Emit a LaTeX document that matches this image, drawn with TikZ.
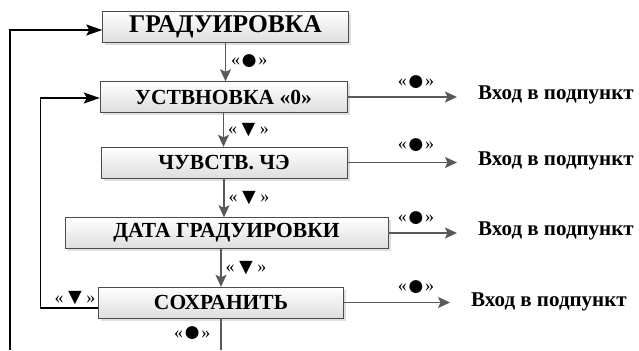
\documentclass[tikz,border=0pt]{standalone}
\usepackage{fontspec}
\setmainfont{Liberation Serif}
\usetikzlibrary{arrows.meta,shadows}

\newcommand{\keydot}{«\raisebox{-3.5bp}{\fontsize{30bp}{30bp}\selectfont ●}»}
\newcommand{\keydown}{«\raisebox{-1.5bp}{\fontsize{23bp}{23bp}\selectfont ▼}»}

\tikzset{%
  menu box/.style={
    draw=black!70,
    top color=white,
    bottom color=black!13,
    drop shadow={shadow xshift=2.5bp, shadow yshift=-2.5bp, opacity=0.25},
    minimum height=31bp,
    inner sep=0pt,
    font=\bfseries\fontsize{21.5bp}{23bp}\selectfont
  },
  step line/.style={
    draw=black!65,
    line width=1.4bp
  },
  step arrow/.style={
    step line,
    -{Stealth[length=12bp, width=11bp, inset=2.5bp]}
  },
  loop arrow/.style={
    draw=black,
    line width=1.6bp,
    -{Stealth[length=16bp, width=11bp, inset=3bp]}
  },
  key label/.style={
    font=\fontsize{18bp}{20bp}\selectfont,
    inner sep=1bp
  },
  enter text/.style={
    anchor=west,
    inner sep=0pt,
    font=\bfseries\fontsize{21bp}{23bp}\selectfont
  },
}

\begin{document}
\begin{tikzpicture}[x=1bp, y=-1bp]

    \useasboundingbox (0,0) rectangle (639,350);

    \node [menu box, minimum width=246bp, font=\bfseries\fontsize{25.5bp}{27bp}\selectfont] (grad) at (225.5,27) {ГРАДУИРОВКА};
    \node [menu box, minimum width=247bp] (ust) at (223.5,97) {УСТВНОВКА «0»};
    \node [menu box, minimum width=246bp] (chuv) at (224,162.5) {ЧУВСТВ. ЧЭ};
    \node [menu box, minimum width=323bp] (data) at (226.5,233) {ДАТА ГРАДУИРОВКИ};
    \node [menu box, minimum width=245bp] (sohr) at (221,302.5) {СОХРАНИТЬ};

    \foreach \x/\y [count=\i] in {478/95, 478/161, 478/231, 471/302}
      \node [enter text] (in-\i) at (\x,\y) {Вход в подпункт};

    \foreach \y [count=\i] in {83, 146, 219, 288}
      \node [key label] (key-\i) at (416,\y) {\keydot};

    \foreach \b [count=\i] in {ust, chuv, data, sohr}
      \draw [step arrow, shorten >=21bp] (\b.east) -- (\b.east -| in-\i.west);

    \draw [step arrow] (grad.south) -- (grad.south |- ust.north)
        node [key label, right=4bp, midway] {\keydot};

    \draw [step arrow] (ust.south) -- (ust.south |- chuv.north)
        node [key label, right=3bp, midway] {\keydown};

    \draw [step arrow] (chuv.south) -- (chuv.south |- data.north)
        node [key label, right=3bp, midway] {\keydown};

    \draw [step arrow] (data.south -| sohr.north) -- (sohr.north)
        node [key label, right=3bp, midway] {\keydown};

    \coordinate (grad-end) at (10,350);
    \coordinate (sohr-end) at (221,350);

    \draw [step line] (sohr.south) -- (sohr-end)
        node [key label, left=9bp, midway] {\keydot};

    \draw [loop arrow] (grad-end) |- ([yshift=-3bp]grad.west);

    \draw [loop arrow] ([yshift=-5.5bp]sohr.west) -- ++(-58,0)
        node [key label, above=1bp, pos=0.4] {\keydown}
        |- ([yshift=-1bp]ust.west);

\end{tikzpicture}
\end{document}
